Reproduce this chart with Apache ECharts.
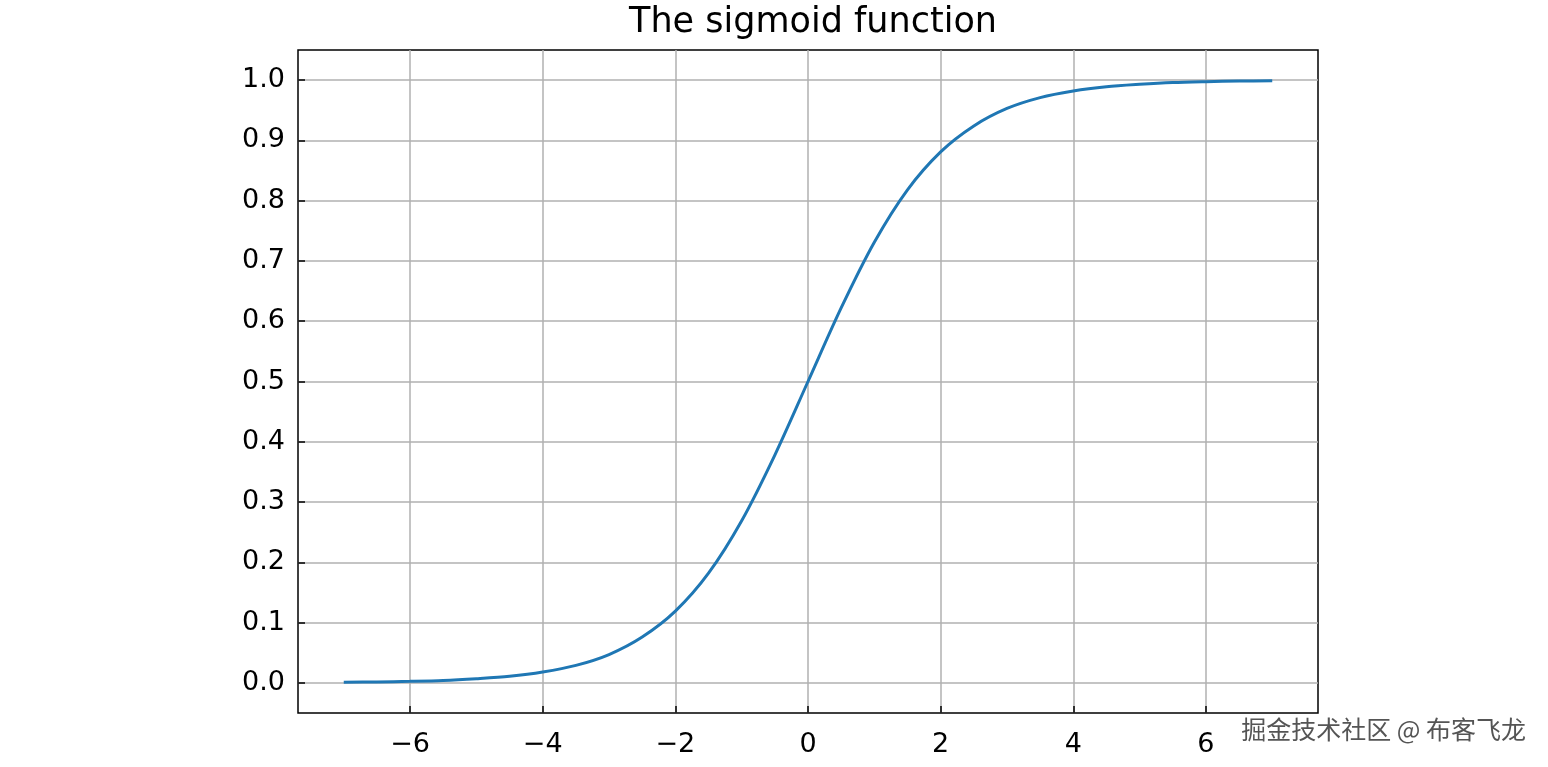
<!DOCTYPE html>
<html>
<head>
<meta charset="utf-8">
<script src="https://cdn.jsdelivr.net/npm/echarts@6/dist/echarts.min.js"></script>
<style>html,body{margin:0;background:#fff}#chart{width:1548px;height:767px}</style>
</head>
<body>
<div id="chart"></div>
<script>
// Curve points
const xs = [-7, -6.5, -6, -5.5, -5, -4.5, -4, -3.5, -3, -2.5, -2, -1.5, -1, -0.5, 0,
  0.5, 1, 1.5, 2, 2.5, 3, 3.5, 4, 4.5, 5, 5.5, 6, 6.5, 7];
const ys = [0.001, 0.0015, 0.0025, 0.004, 0.007, 0.011, 0.018, 0.029, 0.047, 0.076, 0.119, 0.182, 0.269, 0.378, 0.5,
  0.622, 0.731, 0.818, 0.881, 0.924, 0.953, 0.971, 0.982, 0.989, 0.993, 0.996, 0.9975, 0.9985, 0.999];
const xTicks = [-6, -4, -2, 0, 2, 4, 6];
const yTicks = [0, 0.1, 0.2, 0.3, 0.4, 0.5, 0.6, 0.7, 0.8, 0.9, 1.0];

const font = "DejaVu Sans";
const chart = echarts.init(document.getElementById("chart"));
chart.setOption({
  animation: false,
  title: {
    text: "The sigmoid function", left: 808, top: 0, textAlign: "center",
    textStyle: { fontFamily: font, fontSize: 35, fontWeight: "normal", color: "#000" },
  },
  grid: { left: 298, right: 230, top: 50, bottom: 54, show: true, borderColor: "#000", borderWidth: 1.5 },
  xAxis: {
    type: "value", min: -7.69, max: 7.69,
    axisLine: { show: false, onZero: false },
    axisTick: { show: true, inside: true, customValues: xTicks, length: 7, lineStyle: { color: "#000", width: 1.5 } },
    axisLabel: {
      customValues: xTicks, color: "#000", fontFamily: font, fontSize: 27, margin: 18,
      formatter: (v) => String(v).replace("-", "\u2212"),
    },
    splitLine: { show: true, lineStyle: { color: "#b0b0b0", width: 1.5 } },
  },
  yAxis: {
    type: "value", min: -0.05, max: 1.05,
    axisLine: { show: false, onZero: false },
    axisTick: { show: true, inside: true, customValues: yTicks, length: 7, lineStyle: { color: "#000", width: 1.5 } },
    axisLabel: {
      customValues: yTicks, color: "#000", fontFamily: font, fontSize: 27, margin: 13,
      formatter: (v) => v.toFixed(1),
    },
    splitLine: { show: true, lineStyle: { color: "#b0b0b0", width: 1.5 } },
  },
  series: [{
    type: "line", data: xs.map((x, i) => [x, ys[i]]), smooth: 0.3, showSymbol: false,
    lineStyle: { color: "#1f77b4", width: 3 },
  }],
  graphic: [{
    type: "text", right: 22, top: 717,
    style: { text: "掘金技术社区 @ 布客飞龙", fontFamily: "Noto Sans CJK SC", fontSize: 25, fill: "#555" },
  }],
});
</script>
</body>
</html>
